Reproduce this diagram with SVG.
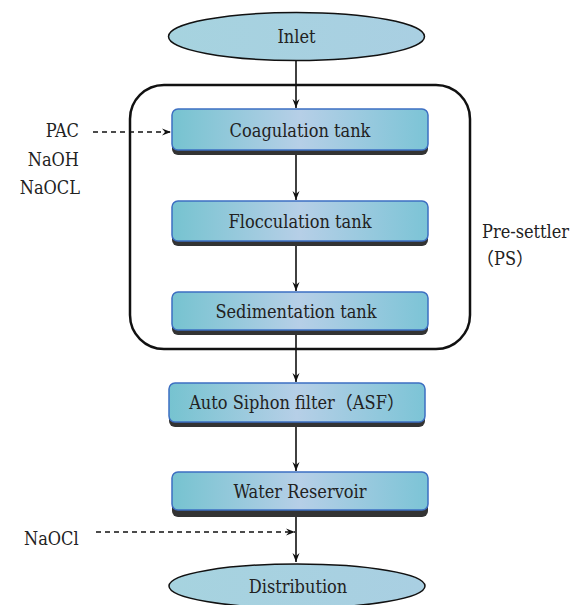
<svg xmlns="http://www.w3.org/2000/svg" width="571" height="605" viewBox="0 0 571 605">
<defs>
<linearGradient id="boxg" x1="0" y1="0" x2="1" y2="0">
<stop offset="0" stop-color="#76c3d0"/>
<stop offset="0.5" stop-color="#b6cfe7"/>
<stop offset="1" stop-color="#7cc4d6"/>
</linearGradient>
<linearGradient id="ellg" x1="0" y1="0" x2="1" y2="0">
<stop offset="0" stop-color="#a6d3df"/>
<stop offset="1" stop-color="#a9cfe2"/>
</linearGradient>
<marker id="arr" markerWidth="10" markerHeight="10" refX="9" refY="5" orient="auto" markerUnits="userSpaceOnUse">
<path d="M0,1.5 L9,5 L0,8.5 L3,5 Z" fill="#111"/>
</marker>
</defs>
<style>
.t{font-family:"DejaVu Serif Condensed","DejaVu Serif",serif;font-stretch:condensed;font-size:18px;fill:#222}
.cjk{font-family:"Noto Sans CJK SC",sans-serif;font-stretch:normal;font-size:18px}
.box{fill:url(#boxg);stroke:#3d6fc2;stroke-width:1.5}
.sh{fill:#333}
.ell{fill:url(#ellg);stroke:#111;stroke-width:1.5}
.ln{stroke:#111;stroke-width:1.6;fill:none}
.dash{stroke:#111;stroke-width:1.6;fill:none;stroke-dasharray:5,4}
</style>
<g id="presettler">
<rect x="130" y="85" width="340" height="264" rx="34" ry="34" fill="none" stroke="#111" stroke-width="2.5"/>
<text class="t" x="482" y="238">Pre-settler</text>
<text class="t" x="476" y="265"><tspan class="cjk">（</tspan>PS<tspan class="cjk">）</tspan></text>
</g>
<g id="connectors">
<line class="ln" x1="296" y1="60" x2="296" y2="108" marker-end="url(#arr)"/>
<line class="ln" x1="296" y1="155" x2="296" y2="200" marker-end="url(#arr)"/>
<line class="ln" x1="296" y1="246" x2="296" y2="291" marker-end="url(#arr)"/>
<line class="ln" x1="296" y1="335" x2="296" y2="382" marker-end="url(#arr)"/>
<line class="ln" x1="296" y1="427" x2="296" y2="471" marker-end="url(#arr)"/>
<line class="ln" x1="296" y1="517" x2="296" y2="562" marker-end="url(#arr)"/>
<line class="dash" x1="93" y1="132" x2="171" y2="132" marker-end="url(#arr)"/>
<line class="dash" x1="96" y1="532" x2="295" y2="532" marker-end="url(#arr)"/>
</g>
<g id="inlet">
<ellipse class="ell" cx="296.5" cy="36.5" rx="128" ry="24"/>
<text class="t" x="296.5" y="43" text-anchor="middle">Inlet</text>
</g>
<g id="chem">
<text class="t" x="79" y="137" text-anchor="end">PAC</text>
<text class="t" x="79" y="166" text-anchor="end">NaOH</text>
<text class="t" x="80" y="194" text-anchor="end">NaOCL</text>
</g>
<g id="coagulation">
<rect class="sh" x="172" y="113" width="256" height="42" rx="6"/>
<rect class="box" x="172" y="109" width="256" height="41" rx="6"/>
<text class="t" x="300" y="137" text-anchor="middle">Coagulation tank</text>
</g>
<g id="flocculation">
<rect class="sh" x="172" y="205" width="256" height="41" rx="6"/>
<rect class="box" x="172" y="201" width="256" height="40" rx="6"/>
<text class="t" x="300" y="228" text-anchor="middle">Flocculation tank</text>
</g>
<g id="sedimentation">
<rect class="sh" x="172" y="295" width="256" height="40" rx="6"/>
<rect class="box" x="172" y="292" width="256" height="38" rx="6"/>
<text class="t" x="296" y="318" text-anchor="middle">Sedimentation tank</text>
</g>
<g id="asf">
<rect class="sh" x="169" y="387" width="256" height="40" rx="6"/>
<rect class="box" x="169" y="383" width="256" height="39" rx="6"/>
<text class="t" x="297" y="409" text-anchor="middle">Auto Siphon filter<tspan class="cjk">（</tspan>ASF<tspan class="cjk">）</tspan></text>
</g>
<g id="reservoir">
<rect class="sh" x="172" y="476" width="256" height="41" rx="6"/>
<rect class="box" x="172" y="472" width="256" height="38" rx="6"/>
<text class="t" x="300" y="498" text-anchor="middle">Water Reservoir</text>
</g>
<g id="naocl">
<text class="t" x="24" y="545">NaOCl</text>
</g>
<g id="distribution">
<ellipse class="ell" cx="297" cy="586" rx="128" ry="22"/>
<text class="t" x="298" y="593" text-anchor="middle">Distribution</text>
</g>
</svg>
